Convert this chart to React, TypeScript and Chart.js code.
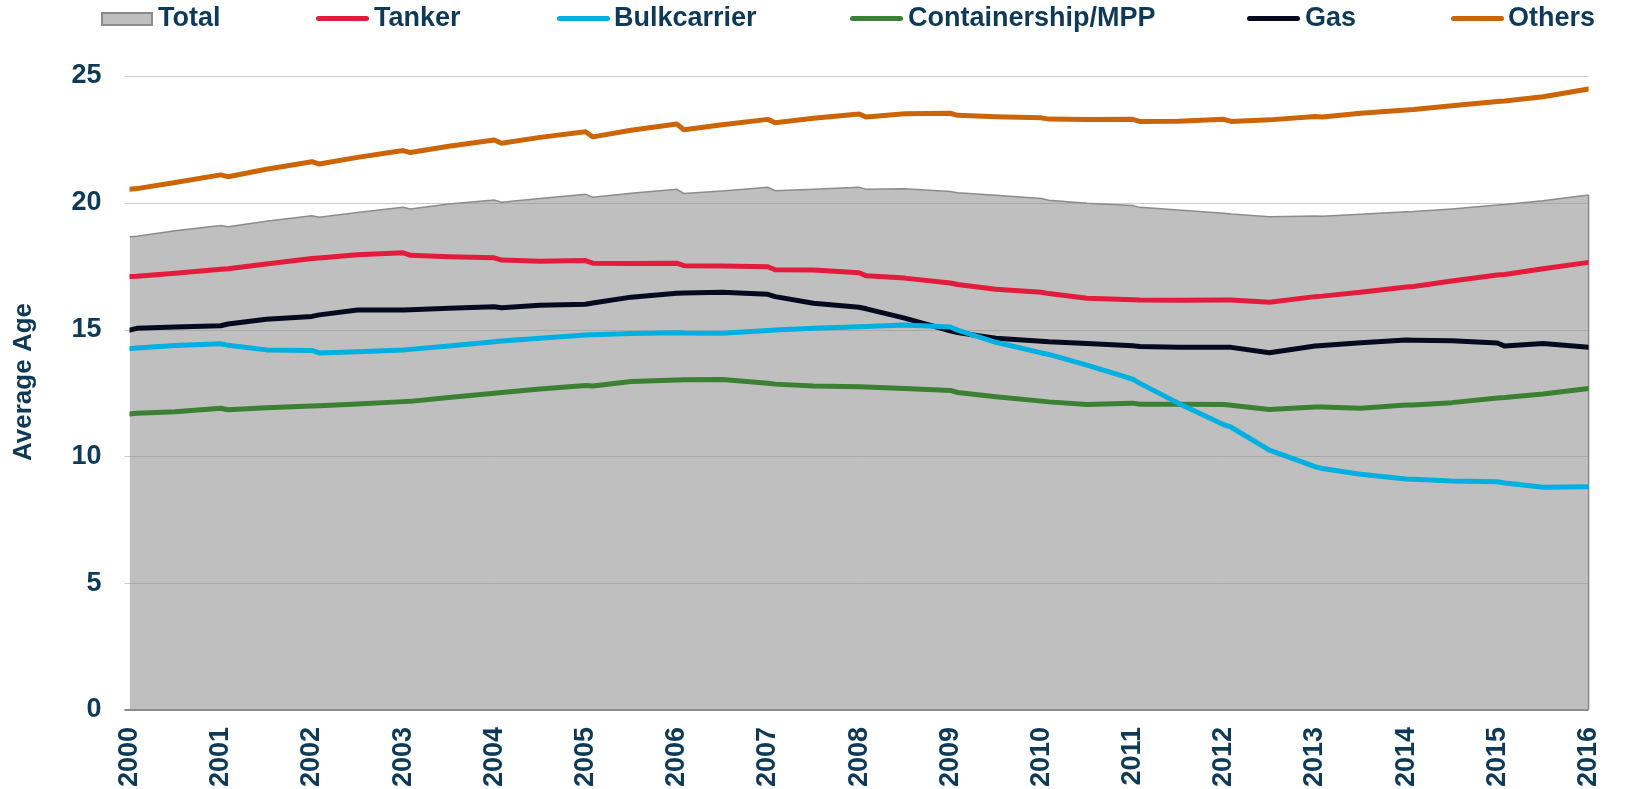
import React, { useEffect, useRef } from "react";
import { Chart, registerables } from "chart.js";

Chart.register(...registerables);

// Decimal-year sample positions (start of year, just after year start, mid-year)
const dates = [
  2000, 2000.08, 2000.5, 2001, 2001.08, 2001.5, 2002, 2002.08, 2002.5,
  2003, 2003.08, 2003.5, 2004, 2004.08, 2004.5, 2005, 2005.08, 2005.5,
  2006, 2006.08, 2006.5, 2007, 2007.08, 2007.5, 2008, 2008.08, 2008.5,
  2009, 2009.08, 2009.5, 2010, 2010.08, 2010.5, 2011, 2011.08, 2011.5,
  2012, 2012.08, 2012.5, 2013, 2013.08, 2013.5, 2014, 2014.08, 2014.5,
  2015, 2015.08, 2015.5, 2016,
];

const total = [
  18.66, 18.68, 18.9, 19.1, 19.06, 19.27, 19.49, 19.43, 19.62,
  19.82, 19.76, 19.95, 20.11, 20.02, 20.17, 20.34, 20.22, 20.38,
  20.53, 20.37, 20.47, 20.61, 20.48, 20.53, 20.61, 20.53, 20.55,
  20.45, 20.4, 20.3, 20.17, 20.1, 19.98, 19.89, 19.82, 19.72,
  19.59, 19.56, 19.45, 19.48, 19.47, 19.55, 19.65, 19.66, 19.76,
  19.91, 19.93, 20.08, 20.31,
];

const tanker = [
  17.09, 17.1, 17.22, 17.38, 17.4, 17.59, 17.8, 17.82, 17.95,
  18.03, 17.93, 17.87, 17.83, 17.74, 17.7, 17.72, 17.62, 17.61,
  17.62, 17.52, 17.51, 17.48, 17.36, 17.35, 17.24, 17.12, 17.03,
  16.84, 16.78, 16.59, 16.47, 16.42, 16.24, 16.18, 16.17, 16.16,
  16.17, 16.17, 16.08, 16.3, 16.32, 16.47, 16.68, 16.7, 16.92,
  17.15, 17.17, 17.4, 17.65,
];

const bulkcarrier = [
  14.25, 14.27, 14.37, 14.44, 14.38, 14.2, 14.18, 14.08, 14.13,
  14.2, 14.22, 14.35, 14.52, 14.55, 14.66, 14.79, 14.8, 14.85,
  14.88, 14.87, 14.86, 14.96, 14.98, 15.05, 15.11, 15.12, 15.18,
  15.1, 14.98, 14.5, 14.08, 14.02, 13.6, 13.05, 12.88, 12.1,
  11.25, 11.15, 10.25, 9.6, 9.52, 9.3, 9.11, 9.1, 9.03,
  9.0, 8.95, 8.78, 8.8,
];

const containership = [
  11.67, 11.7, 11.76, 11.9, 11.84, 11.92, 11.99, 12.0, 12.07,
  12.16, 12.17, 12.32, 12.49, 12.52, 12.66, 12.8, 12.78, 12.95,
  13.01, 13.02, 13.03, 12.88, 12.85, 12.78, 12.75, 12.74, 12.68,
  12.6, 12.52, 12.35, 12.18, 12.15, 12.05, 12.1, 12.06, 12.06,
  12.05, 12.02, 11.85, 11.95, 11.95, 11.9, 12.03, 12.03, 12.12,
  12.3, 12.32, 12.46, 12.68,
];

const gas = [
  14.98, 15.05, 15.1, 15.15, 15.22, 15.41, 15.52, 15.58, 15.77,
  15.77, 15.78, 15.84, 15.9, 15.86, 15.96, 16.0, 16.05, 16.28,
  16.43, 16.44, 16.47, 16.39, 16.3, 16.04, 15.88, 15.82, 15.45,
  14.95, 14.88, 14.66, 14.54, 14.52, 14.45, 14.36, 14.33, 14.3,
  14.3, 14.3, 14.09, 14.35, 14.37, 14.48, 14.59, 14.58, 14.56,
  14.47, 14.35, 14.45, 14.3,
];

const others = [
  20.53, 20.56, 20.8, 21.1, 21.03, 21.32, 21.62, 21.53, 21.79,
  22.06, 21.98, 22.23, 22.48, 22.35, 22.58, 22.8, 22.6, 22.86,
  23.11, 22.88, 23.08, 23.29, 23.16, 23.33, 23.5, 23.38, 23.51,
  23.53, 23.45, 23.39, 23.35, 23.3, 23.28, 23.29, 23.21, 23.22,
  23.29, 23.21, 23.27, 23.4, 23.38, 23.53, 23.66, 23.68, 23.83,
  23.99, 24.01, 24.18, 24.49,
];

const seriesNames = ["Total", "Tanker", "Bulkcarrier", "Containership/MPP", "Gas", "Others"];
const seriesColors = ["#bfbfbf", "#e31b3c", "#00b0e0", "#3b8033", "#060a1e", "#cc6508"];
const yTicks = [0, 5, 10, 15, 20, 25];
const yTitle = "Average Age";

const NAVY = "#0e3a57";
const FONT = "'Liberation Sans', Arial, sans-serif";

const toPoints = (vals: number[]) => vals.map((v, i) => ({ x: dates[i], y: v }));

const gridPlugin = {
  id: "gridOverFill",
  afterDatasetDraw(chart: any, args: any) {
    if (args.index !== 0) return;
    const { ctx, chartArea } = chart;
    const ys = chart.scales.y;
    const xs = chart.scales.x;
    ctx.save();
    ctx.lineWidth = 1;
    ctx.strokeStyle = "rgba(140,140,140,0.45)";
    yTicks.forEach((t) => {
      if (t === 0) return;
      const y = Math.round(ys.getPixelForValue(t)) + 0.5;
      ctx.beginPath();
      ctx.moveTo(chartArea.left - 5, y);
      ctx.lineTo(chartArea.right, y);
      ctx.stroke();
    });
    // baseline and right edge of the Total area
    ctx.strokeStyle = "#8c8c8c";
    ctx.lineWidth = 2;
    const y0 = ys.getPixelForValue(0);
    const xe = xs.getPixelForValue(dates[dates.length - 1]);
    ctx.beginPath();
    ctx.moveTo(chartArea.left - 5, y0);
    ctx.lineTo(xe, y0);
    ctx.stroke();
    ctx.lineWidth = 1.5;
    ctx.beginPath();
    ctx.moveTo(xe, ys.getPixelForValue(total[total.length - 1]));
    ctx.lineTo(xe, y0);
    ctx.stroke();
    ctx.restore();
  },
};

const titlePlugin = {
  id: "yTitle",
  afterDraw(chart: any) {
    const { ctx } = chart;
    ctx.save();
    ctx.translate(24, 382);
    ctx.rotate(-Math.PI / 2);
    ctx.fillStyle = NAVY;
    ctx.font = `bold 26px ${FONT}`;
    ctx.textAlign = "center";
    ctx.textBaseline = "middle";
    ctx.fillText(yTitle, 0, 0);
    ctx.restore();
  },
};

const legendPos = [
  { mark: 101, text: 158 },
  { mark: 316, text: 374 },
  { mark: 557, text: 614 },
  { mark: 850, text: 908 },
  { mark: 1247, text: 1305 },
  { mark: 1451, text: 1508 },
];

export default function App() {
  const ref = useRef<HTMLCanvasElement | null>(null);

  useEffect(() => {
    if (!ref.current) return;
    Chart.defaults.font.family = FONT;
    const lineSets = [tanker, bulkcarrier, containership, gas, others].map((vals, k) => ({
      label: seriesNames[k + 1],
      data: toPoints(vals),
      borderColor: seriesColors[k + 1],
      backgroundColor: seriesColors[k + 1],
      borderWidth: 5,
      pointRadius: 0,
      tension: 0,
      fill: false,
      borderCapStyle: "round" as const,
      borderJoinStyle: "round" as const,
      order: 0,
    }));
    const chart = new Chart(ref.current, {
      type: "line",
      data: {
        datasets: [
          {
            label: seriesNames[0],
            data: toPoints(total),
            borderColor: "#8c8c8c",
            backgroundColor: seriesColors[0],
            borderWidth: 1.5,
            pointRadius: 0,
            tension: 0,
            fill: "origin",
            order: 1,
          },
          ...lineSets,
        ],
      },
      options: {
        responsive: false,
        animation: false,
        layout: { padding: { left: 0, right: 23, top: 76, bottom: 0 } },
        plugins: { legend: { display: false }, tooltip: { enabled: false } },
        scales: {
          x: {
            type: "linear",
            min: 2000,
            max: 2016,
            grid: { display: false, drawTicks: false },
            border: { display: false },
            afterFit: (s: any) => {
              s.height = 79;
            },
            ticks: {
              stepSize: 1,
              autoSkip: false,
              minRotation: 90,
              maxRotation: 90,
              padding: 17,
              color: NAVY,
              font: { size: 27, weight: "bold", family: FONT },
              callback: (v: any) => String(v),
            },
          },
          y: {
            min: 0,
            max: 25,
            grid: { display: false, drawTicks: false },
            border: { display: false },
            afterFit: (s: any) => {
              s.width = 129.5;
            },
            ticks: {
              stepSize: 5,
              padding: 28,
              color: NAVY,
              font: { size: 27, weight: "bold", family: FONT },
            },
          },
        },
      },
      plugins: [gridPlugin, titlePlugin],
    });
    return () => chart.destroy();
  }, []);

  return (
    <div style={{ position: "absolute", left: 0, top: 0, width: 1638, height: 789, background: "#fff" }}>
      <canvas ref={ref} width={1638} height={789} style={{ position: "absolute", left: 0, top: 0 }} />
      {seriesNames.map((name, i) => (
        <React.Fragment key={name}>
          {i === 0 ? (
            <div
              style={{
                position: "absolute",
                left: legendPos[i].mark,
                top: 12,
                width: 52,
                height: 14,
                boxSizing: "border-box",
                background: seriesColors[0],
                border: "2px solid #8c8c8c",
              }}
            />
          ) : (
            <div
              style={{
                position: "absolute",
                left: legendPos[i].mark,
                top: 16,
                width: 53,
                height: 5,
                borderRadius: 3,
                background: seriesColors[i],
              }}
            />
          )}
          <div
            style={{
              position: "absolute",
              left: legendPos[i].text,
              top: 4,
              lineHeight: "27px",
              fontFamily: FONT,
              fontWeight: "bold",
              fontSize: 27,
              color: NAVY,
              whiteSpace: "nowrap",
            }}
          >
            {name}
          </div>
        </React.Fragment>
      ))}
    </div>
  );
}
